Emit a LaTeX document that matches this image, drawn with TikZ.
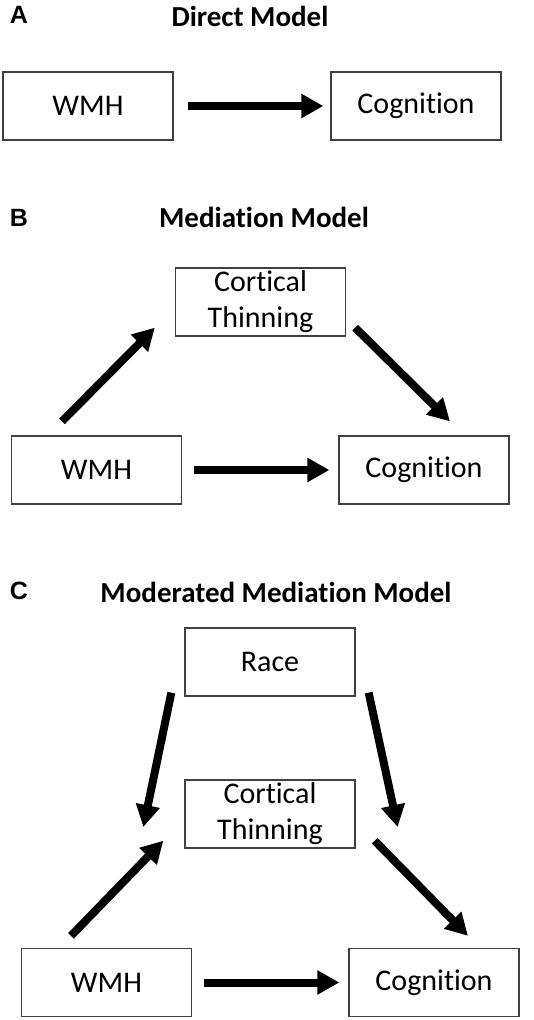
\documentclass[tikz,border=0pt]{standalone}
\usepackage{fontspec}
\setmainfont{Carlito}[Ligatures=NoCommon]
\newfontfamily\letterfont{Liberation Sans}
\usetikzlibrary{arrows.meta, positioning}
\definecolor{boxline}{HTML}{404040}

\begin{document}
\begin{tikzpicture}[
    x=1pt, y=-1pt,
    box/.style={rectangle, draw=boxline, line width=1.3pt, minimum width=170pt,
                minimum height=68pt, inner sep=0pt, align=center,
                font=\fontsize{30}{36}\selectfont},
    title/.style={inner sep=0pt, font=\bfseries\fontsize{29}{35}\selectfont},
    panel/.style={inner sep=0pt, font=\fontsize{25}{30}\selectfont\letterfont\bfseries},
    arrow/.style={-{Triangle[length=22pt,width=23pt]}, line width=8pt}
  ]
    \useasboundingbox (0,0) rectangle (534,1020);

    % A: direct model
    \node[panel] (labelA) at (19,15) {A};
    \node[title] (titleA) at (250,16) {Direct Model};
    \node[box] (wmhA) at (88,106) {WMH};
    \node[box] (cogA) at (416,106) {Cognition};
    \draw[arrow] ([xshift=14pt]wmhA.east) -- ([xshift=-7pt]cogA.west);

    % B: mediation model
    \node[panel] (labelB) at (19,218) {B};
    \node[title] (titleB) at (264,217) {Mediation Model};
    \node[box] (ctB) at (260.5,302) {Cortical\\Thinning};
    \node[box] (wmhB) at (96.5,470) {WMH};
    \node[box] (cogB) at (424,470) {Cognition};
    \draw[arrow] ([xshift=-34.5pt,yshift=14pt]wmhB.north) -- ([xshift=-20pt,yshift=9pt]ctB.south west);
    \draw[arrow] ([xshift=9pt,yshift=9pt]ctB.south east) -- ([xshift=26pt,yshift=14pt]cogB.north);
    \draw[arrow] ([xshift=12pt]wmhB.east) -- ([xshift=-9pt]cogB.west);

    % C: moderated mediation model
    \node[panel] (labelC) at (19,591) {C};
    \node[title] (titleC) at (276,592) {Moderated Mediation Model};
    \node[box] (raceC) at (270,662) {Race};
    \node[box] (ctC) at (270,814) {Cortical\\Thinning};
    \node[box] (wmhC) at (106.5,982.5) {WMH};
    \node[box] (cogC) at (434,982.5) {Cognition};
    \draw[arrow] ([xshift=-13pt,yshift=4pt]raceC.south west) -- ([xshift=-41pt,yshift=-13pt]ctC.west);
    \draw[arrow] ([xshift=13pt,yshift=4pt]raceC.south east) -- ([xshift=42pt,yshift=-13pt]ctC.east);
    \draw[arrow] ([xshift=-35.5pt,yshift=12pt]wmhC.north) -- ([xshift=-21pt,yshift=8pt]ctC.south west);
    \draw[arrow] ([xshift=19pt,yshift=8pt]ctC.south east) -- ([xshift=34pt,yshift=12pt]cogC.north);
    \draw[arrow] ([xshift=12pt]wmhC.east) -- ([xshift=-9pt]cogC.west);
  \end{tikzpicture}
\end{document}
